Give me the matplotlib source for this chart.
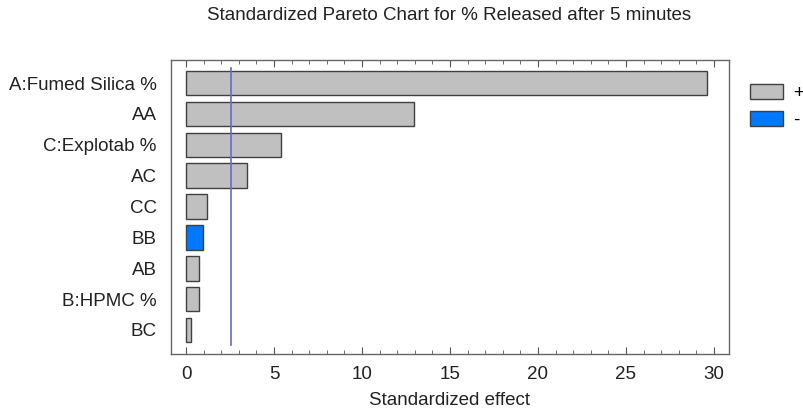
import numpy as np
import matplotlib
matplotlib.use("Agg")
from matplotlib import pyplot as plt
from matplotlib.patches import Patch

plt.rcParams['font.family'] = ['Liberation Sans', 'DejaVu Sans']

# effects in pareto order (top to bottom)
factors = ['A:Fumed Silica %', 'AA', 'C:Explotab %', 'AC', 'CC', 'BB', 'AB', 'B:HPMC %', 'BC']
effects = [29.6, 12.95, 5.4, 3.47, 1.17, 0.96, 0.72, 0.72, 0.28]
signs = ['+', '+', '+', '+', '+', '-', '+', '+', '+']
crit_t = 2.57

GRAY = '#c0c0c0'
BLUE = '#0078ff'
colors = [GRAY if s == '+' else BLUE for s in signs]
FS = 13.5

fig = plt.figure(figsize=(8.04, 4.15), dpi=100)
ax = fig.add_axes([0.2123, 0.1477, 0.6948, 0.7077])

ypos = np.arange(len(factors))
ax.barh(ypos, effects, height=0.8, color=colors, edgecolor='#404040', linewidth=1.0)
ax.plot([crit_t, crit_t], [-0.5, len(factors) - 0.5], color='#6a6ac8', lw=1.2)

ax.set_xlim(-0.87, 30.87)
ax.set_ylim(len(factors) - 1 + 0.77, -0.75)
ax.set_yticks(ypos)
ax.set_yticklabels(factors, fontsize=FS, color='#222222')
ax.set_xticks(np.arange(0, 31, 5))
ax.set_xticks(np.arange(0, 31, 1), minor=True)
ax.tick_params(axis='x', which='major', direction='in', top=True, length=5,
               labelsize=FS, pad=9, colors='#555555', labelcolor='#222222')
ax.tick_params(axis='x', which='minor', direction='in', top=True, length=3, colors='#555555')
ax.tick_params(axis='y', length=0, pad=10)
for sp in ax.spines.values():
    sp.set_color('#666666')
    sp.set_linewidth(1.0)

ax.set_xlabel('Standardized effect', fontsize=FS, color='#222222', labelpad=6)
fig.text(0.5585, 1 - 20 / 415, 'Standardized Pareto Chart for % Released after 5 minutes',
         fontsize=FS, ha='center', va='baseline', color='#222222')

handles = [Patch(facecolor=GRAY, edgecolor='#404040'), Patch(facecolor=BLUE, edgecolor='#404040')]
fig.legend(handles, ['+', '-'], loc='upper left', bbox_to_anchor=(750 / 804, 1 - 84 / 415),
           frameon=False, fontsize=FS, handlelength=1.75, handleheight=0.85,
           handletextpad=0.55, labelspacing=0.5, borderpad=0, borderaxespad=0)

fig.savefig('out.png', dpi=100)
